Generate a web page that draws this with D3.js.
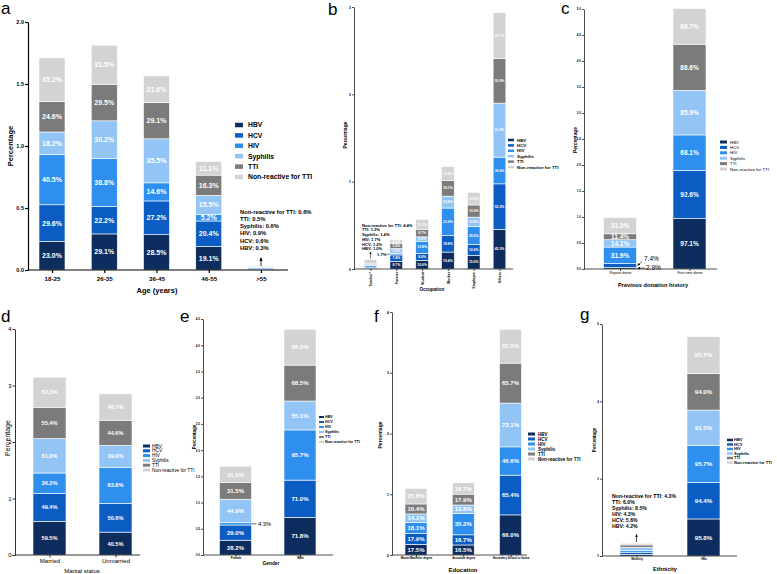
<!DOCTYPE html>
<html>
<head>
<meta charset="utf-8">
<script src="https://cdn.jsdelivr.net/npm/d3@7"></script>
<style>
  body { margin: 0; background: #fff; }
  svg text { font-family: "Liberation Sans", Arial, sans-serif; }
</style>
</head>
<body>
<svg id="fig" width="777" height="574"></svg>
<script>
// series (stack order, bottom to top)
var series = ["HBV", "HCV", "HIV", "Syphilis", "TTI", "Non-reactive for TTI"];
var seriesColors = ["#0d2d5e", "#0b5dc3", "#2f8fef", "#92c5f5", "#7b7b7b", "#d3d3d3"];

// a. age groups, % of each series (HBV, HCV, HIV, Syphilis, TTI, Non-reactive)
var ageGroups = ["18-25", "26-35", "36-45", "46-55", ">55"];
var ageValues = [
  [23.0, 29.6, 40.5, 18.2, 24.6, 35.2],
  [29.1, 22.2, 38.8, 30.2, 29.5, 31.5],
  [28.5, 27.2, 14.6, 35.5, 29.1, 21.6],
  [19.1, 20.4, 5.2, 15.5, 16.3, 11.1],
  [0.3, 0.6, 0.9, 0.6, 0.5, 0.6]
];

// b. occupation
var occupations = ["Teacher*", "Farmer", "Student", "Worker", "Employee", "Others"];
var occValues = [
  [1.0, 1.2, 1.7, 1.4, 1.3, 4.4],
  [8.7, 7.4, 1.7, 5.8, 5.4, 4.5],
  [10.0, 8.0, 13.8, 5.0, 8.7, 11.3],
  [19.4, 18.8, 31.6, 13.6, 18.1, 15.8],
  [15.6, 12.4, 20.6, 10.8, 13.9, 14.5],
  [45.3, 52.2, 30.6, 61.8, 50.9, 52.7]
];

// c. previous donation history
var donorTypes = ["Repeat donor", "First-time donor"];
var donorValues = [
  [2.9, 7.4, 31.9, 14.1, 11.4, 31.3],
  [97.1, 92.6, 68.1, 85.9, 88.6, 68.7]
];

// d. marital status
var maritalGroups = ["Married", "Unmarried"];
var maritalValues = [
  [59.5, 49.4, 36.2, 61.0, 55.4, 53.3],
  [40.5, 50.6, 63.8, 39.0, 44.6, 46.7]
];

// e. gender
var genders = ["Female", "Male"];
var genderValues = [
  [28.2, 29.0, 4.3, 44.9, 31.5, 31.5],
  [71.8, 71.0, 95.7, 55.1, 68.5, 68.5]
];

// f. education
var eduLevels = ["Master/Bachelor degree", "Associate degree", "Secondary School or below"];
var eduValues = [
  [17.5, 17.9, 18.1, 14.1, 16.4, 25.8],
  [16.5, 16.7, 35.3, 13.8, 17.9, 18.7],
  [66.0, 65.4, 46.6, 72.1, 65.7, 55.5]
];

// g. ethnicity
var ethnicities = ["Minority", "Han"];
var ethValues = [
  [4.2, 5.6, 4.3, 8.5, 6.0, 4.3],
  [95.8, 94.4, 95.7, 91.5, 94.0, 95.7]
];

var svg = d3.select("#fig");
var pct = d3.format(".1f");

svg.append("defs").append("marker")
  .attr("id", "arr")
  .attr("viewBox", "0 0 10 10")
  .attr("refX", 9).attr("refY", 5)
  .attr("markerWidth", 5).attr("markerHeight", 5)
  .attr("orient", "auto")
  .append("path").attr("d", "M0,1L10,5L0,9z").attr("fill", "#000");

function drawPanel(p) {
  var g = svg.append("g").attr("class", "panel-" + p.letter);

  var y = d3.scaleLinear().domain([0, p.yMax]).range([p.y0, p.yTop]);
  var x = d3.scalePoint().domain(p.cats).range([p.c0, p.c1]);
  var stacked = d3.stack().keys(d3.range(series.length))(
    p.vals.map(function(r) { return r.map(function(v) { return v / 100; }); })
  );

  // bars
  stacked.forEach(function(layer, i) {
    g.selectAll(".s" + i).data(layer).enter().append("rect")
      .attr("x", function(d, j) { return x(p.cats[j]) - p.bw / 2; })
      .attr("y", function(d) { return y(d[1]); })
      .attr("width", p.bw)
      .attr("height", function(d) { return y(d[0]) - y(d[1]); })
      .attr("fill", seriesColors[i])
      .attr("stroke", "#fff")
      .attr("stroke-width", 0.6);

    g.selectAll(".v" + i).data(layer).enter().append("text")
      .filter(function(d, j) {
        return p.noLabel.indexOf(p.cats[j]) < 0 && (y(d[0]) - y(d[1])) >= p.valFs * 0.75;
      })
      .attr("x", function(d) { return x(p.cats[layer.indexOf(d)]); })
      .attr("y", function(d) { return (y(d[0]) + y(d[1])) / 2 + p.valFs * 0.35; })
      .attr("text-anchor", "middle")
      .attr("fill", "#fff")
      .attr("font-weight", "bold")
      .attr("font-size", p.valFs)
      .text(function(d) { return pct((d[1] - d[0]) * 100) + "%"; });
  });

  // y axis
  var yAxis = g.append("g")
    .attr("transform", "translate(" + p.axisX + ",0)")
    .call(d3.axisLeft(y).tickValues(p.ticks).tickFormat(d3.format(p.fmt))
      .tickSize(p.tickLen).tickSizeOuter(0).tickPadding(1));
  yAxis.selectAll("text").attr("font-size", p.tickFs)
    .attr("font-weight", p.tickBold ? "bold" : "normal").attr("fill", "#000");
  yAxis.selectAll("path, line").attr("stroke", "#000").attr("stroke-width", p.sw);
  yAxis.attr("font-family", null);

  // x axis
  g.append("line")
    .attr("x1", p.axisX).attr("x2", p.axisEnd)
    .attr("y1", p.y0).attr("y2", p.y0)
    .attr("stroke", "#000").attr("stroke-width", p.sw);
  var xAxis = g.append("g")
    .attr("transform", "translate(0," + p.y0 + ")")
    .call(d3.axisBottom(x).tickSize(p.tickLen).tickSizeOuter(0).tickPadding(1));
  xAxis.select(".domain").remove();
  xAxis.selectAll("line").attr("stroke", "#000").attr("stroke-width", p.sw);
  xAxis.attr("font-family", null);
  var xt = xAxis.selectAll("text").attr("font-size", p.xFs)
    .attr("font-weight", p.xBold ? "bold" : "normal").attr("fill", "#000");
  if (p.rotateX) {
    xt.attr("transform", "rotate(-90)")
      .attr("text-anchor", "end")
      .attr("x", -p.tickLen - 1).attr("y", 0).attr("dy", "0.35em");
  } else {
    xt.attr("y", p.xY - p.y0).attr("dy", null);
  }

  // titles
  g.append("text")
    .attr("transform", "translate(" + p.yTitle[0] + "," + p.yTitle[1] + ") rotate(-90)")
    .attr("text-anchor", "middle")
    .attr("font-size", p.yTitle[2])
    .attr("font-weight", p.titleBold ? "bold" : "normal")
    .text("Percentage");
  g.append("text")
    .attr("x", p.xTitle[1]).attr("y", p.xTitle[2])
    .attr("text-anchor", "middle")
    .attr("font-size", p.xTitle[3])
    .attr("font-weight", p.titleBold ? "bold" : "normal")
    .text(p.xTitle[0]);

  // legend
  var lg = p.legend;
  var items = g.selectAll(".lg").data(series).enter().append("g")
    .attr("transform", function(d, i) { return "translate(0," + (lg.y + i * lg.step) + ")"; });
  items.append("rect")
    .attr("x", lg.x).attr("y", -lg.h / 2)
    .attr("width", lg.w).attr("height", lg.h)
    .attr("fill", function(d, i) { return seriesColors[i]; });
  items.append("text")
    .attr("x", lg.tx).attr("y", lg.fs * 0.35)
    .attr("font-size", lg.fs)
    .attr("font-weight", lg.bold ? "bold" : "normal")
    .text(function(d) { return d; });

  // panel letter
  svg.append("text")
    .attr("x", p.letterPos[0]).attr("y", p.letterPos[1])
    .attr("font-family", "Liberation Serif, Times New Roman, serif")
    .attr("font-size", 17)
    .text(p.letter);

  return {g: g, x: x, y: y};
}

// list of "series: value" lines for a tiny bar, top series first
function noteLines(row) {
  return series.map(function(s, i) { return s + ": " + pct(row[i]) + "%"; }).reverse();
}

function drawNote(g, lines, x, y, step, fs) {
  g.selectAll(null).data(lines).enter().append("text")
    .attr("x", x).attr("y", function(d, i) { return y + i * step; })
    .attr("font-size", fs).attr("font-weight", "bold")
    .text(function(d) { return d; });
}

function arrow(g, x1, y1, x2, y2, w) {
  g.append("line")
    .attr("x1", x1).attr("y1", y1).attr("x2", x2).attr("y2", y2)
    .attr("stroke", "#000").attr("stroke-width", w || 0.7)
    .attr("marker-end", "url(#arr)");
}

function total(row) { return d3.sum(row) / 100; }

// ---- a
var pa = drawPanel({
  letter: "a", letterPos: [1, 14], cats: ageGroups, vals: ageValues,
  yMax: 2, ticks: [0, 0.5, 1, 1.5, 2], fmt: ".1f",
  y0: 270, yTop: 22, axisX: 28, axisEnd: 288, c0: 52, c1: 261, bw: 26,
  tickLen: 3, tickFs: 5.5, tickBold: true, xFs: 6.2, xBold: true, xY: 281, valFs: 7, sw: 1.2,
  yTitle: [13, 146, 7.5], xTitle: ["Age (years)", 157, 293, 7.5], titleBold: true,
  legend: {x: 235, y: 125, step: 10.4, w: 8, h: 4.5, tx: 248, fs: 6.8, bold: true},
  noLabel: [">55"]
});
drawNote(pa.g, noteLines(ageValues[4]), 240, 213.5, 7.3, 5.8);
arrow(pa.g, pa.x(">55"), 266, pa.x(">55"), pa.y(total(ageValues[4])) - 8, 0.8);

// ---- b
var pb = drawPanel({
  letter: "b", letterPos: [328, 15], cats: occupations, vals: occValues,
  yMax: 3, ticks: [0, 1, 2, 3], fmt: "d",
  y0: 269, yTop: 7, axisX: 354, axisEnd: 513, c0: 370.5, c1: 499.5, bw: 12.7,
  tickLen: 2, tickFs: 3.5, tickBold: true, xFs: 3.5, xBold: true, rotateX: true, valFs: 3.4, sw: 0.7,
  yTitle: [347, 135, 5], xTitle: ["Occupation", 432, 291, 4.5], titleBold: true,
  legend: {x: 508, y: 140, step: 5.4, w: 6, h: 2.5, tx: 517, fs: 4.4, bold: true},
  noLabel: ["Teacher*"]
});
drawNote(pb.g, noteLines(occValues[0]), 362, 226.5, 4.75, 4.1);
arrow(pb.g, pb.x("Teacher*"), 258.5, pb.x("Teacher*"), pb.y(total(occValues[0])) - 7.5, 0.5);
var farmerHiv = pb.y((occValues[1][0] + occValues[1][1] + occValues[1][2] / 2) / 100);
pb.g.append("text").attr("x", 377).attr("y", farmerHiv + 1.4)
  .attr("font-size", 4.1).attr("font-weight", "bold")
  .text(pct(occValues[1][2]) + "%");
pb.g.append("line")
  .attr("x1", 386.5).attr("x2", pb.x("Farmer") - 12.7 / 2).attr("y1", farmerHiv).attr("y2", farmerHiv)
  .attr("stroke", "#000").attr("stroke-width", 0.5);

// ---- c
var pc = drawPanel({
  letter: "c", letterPos: [561, 14], cats: donorTypes, vals: donorValues,
  yMax: 5, ticks: d3.range(0, 5.01, 0.5), fmt: ".1f",
  y0: 269, yTop: 9, axisX: 584, axisEnd: 717, c0: 620, c1: 689.5, bw: 33,
  tickLen: 2, tickFs: 3, tickBold: true, xFs: 3.6, xBold: false, xY: 274, valFs: 6.5, sw: 0.7,
  yTitle: [577, 140, 4.8], xTitle: ["Previous donation history", 653, 287, 5.7], titleBold: true,
  legend: {x: 720, y: 142, step: 5.4, w: 7, h: 3, tx: 730, fs: 4.4, bold: false},
  noLabel: []
});
var repEdge = pc.x("Repeat donor") + 33 / 2;
var hcvMid = pc.y((donorValues[0][0] + donorValues[0][1] / 2) / 100);
var hbvMid = pc.y(donorValues[0][0] / 200);
pc.g.append("text").attr("x", 644).attr("y", 261).attr("font-size", 6.5)
  .text(pct(donorValues[0][1]) + "%");
pc.g.append("text").attr("x", 646).attr("y", 270).attr("font-size", 6.5)
  .text(pct(donorValues[0][0]) + "%");
arrow(pc.g, 642, 261.5, repEdge + 1, hcvMid, 0.6);
arrow(pc.g, 645, 268, repEdge + 1, hbvMid, 0.6);

// ---- d
var pd = drawPanel({
  letter: "d", letterPos: [1, 322], cats: maritalGroups, vals: maritalValues,
  yMax: 4, ticks: [0, 1, 2, 3, 4], fmt: "d",
  y0: 555, yTop: 329, axisX: 15, axisEnd: 140, c0: 49.5, c1: 115.5, bw: 33,
  tickLen: 2.5, tickFs: 6, tickBold: false, xFs: 6, xBold: false, xY: 563, valFs: 5.6, sw: 0.8,
  yTitle: [10, 438, 7], xTitle: ["Marital status", 82, 573, 6], titleBold: false,
  legend: {x: 143, y: 446, step: 4.8, w: 7, h: 3, tx: 152, fs: 4.8, bold: false},
  noLabel: []
});

// ---- e
var pe = drawPanel({
  letter: "e", letterPos: [180, 322], cats: genders, vals: genderValues,
  yMax: 4.5, ticks: d3.range(0, 4.51, 0.5), fmt: ".1f",
  y0: 555, yTop: 319, axisX: 203, axisEnd: 333, c0: 235.5, c1: 300, bw: 32,
  tickLen: 2, tickFs: 3, tickBold: true, xFs: 3, xBold: true, xY: 559, valFs: 6, sw: 0.7,
  yTitle: [196, 437, 4.5], xTitle: ["Gender", 271, 565, 4.8], titleBold: true,
  legend: {x: 319, y: 417, step: 5, w: 5, h: 2, tx: 325, fs: 3.7, bold: true},
  noLabel: []
});
var femEdge = pe.x("Female") + 32 / 2;
var femHiv = pe.y((genderValues[0][0] + genderValues[0][1] + genderValues[0][2] / 2) / 100);
pe.g.append("line").attr("x1", femEdge).attr("x2", femEdge + 5)
  .attr("y1", femHiv).attr("y2", femHiv).attr("stroke", "#000").attr("stroke-width", 0.6);
pe.g.append("text").attr("x", femEdge + 6.5).attr("y", femHiv + 2)
  .attr("font-size", 5.8).text(pct(genderValues[0][2]) + "%");

// ---- f
var pf = drawPanel({
  letter: "f", letterPos: [374, 322], cats: eduLevels, vals: eduValues,
  yMax: 4, ticks: [0, 1, 2, 3, 4], fmt: "d",
  y0: 555, yTop: 312, axisX: 392, axisEnd: 527, c0: 416, c1: 510.5, bw: 22,
  tickLen: 2, tickFs: 3.5, tickBold: true, xFs: 2.8, xBold: true, xY: 559, valFs: 6, sw: 0.7,
  yTitle: [382, 435, 5], xTitle: ["Education", 463, 572, 6], titleBold: true,
  legend: {x: 528, y: 434, step: 5, w: 7, h: 3, tx: 538, fs: 4.5, bold: true},
  noLabel: []
});

// ---- g
var pg = drawPanel({
  letter: "g", letterPos: [580, 320], cats: ethnicities, vals: ethValues,
  yMax: 6, ticks: [0, 2, 4, 6], fmt: "d",
  y0: 556, yTop: 324, axisX: 602, axisEnd: 737, c0: 636.5, c1: 703.5, bw: 33,
  tickLen: 2, tickFs: 3, tickBold: true, xFs: 3, xBold: true, xY: 560, valFs: 6.2, sw: 0.7,
  yTitle: [596, 440, 4.5], xTitle: ["Ethnicity", 665, 571, 5.7], titleBold: true,
  legend: {x: 727, y: 440, step: 4.5, w: 6, h: 2.5, tx: 734, fs: 4, bold: true},
  noLabel: ["Minority"]
});
drawNote(pg.g, noteLines(ethValues[0]), 612, 498, 5.93, 5.2);
arrow(pg.g, pg.x("Minority"), 542, pg.x("Minority"), pg.y(total(ethValues[0])) - 9, 0.7);
</script>
</body>
</html>
